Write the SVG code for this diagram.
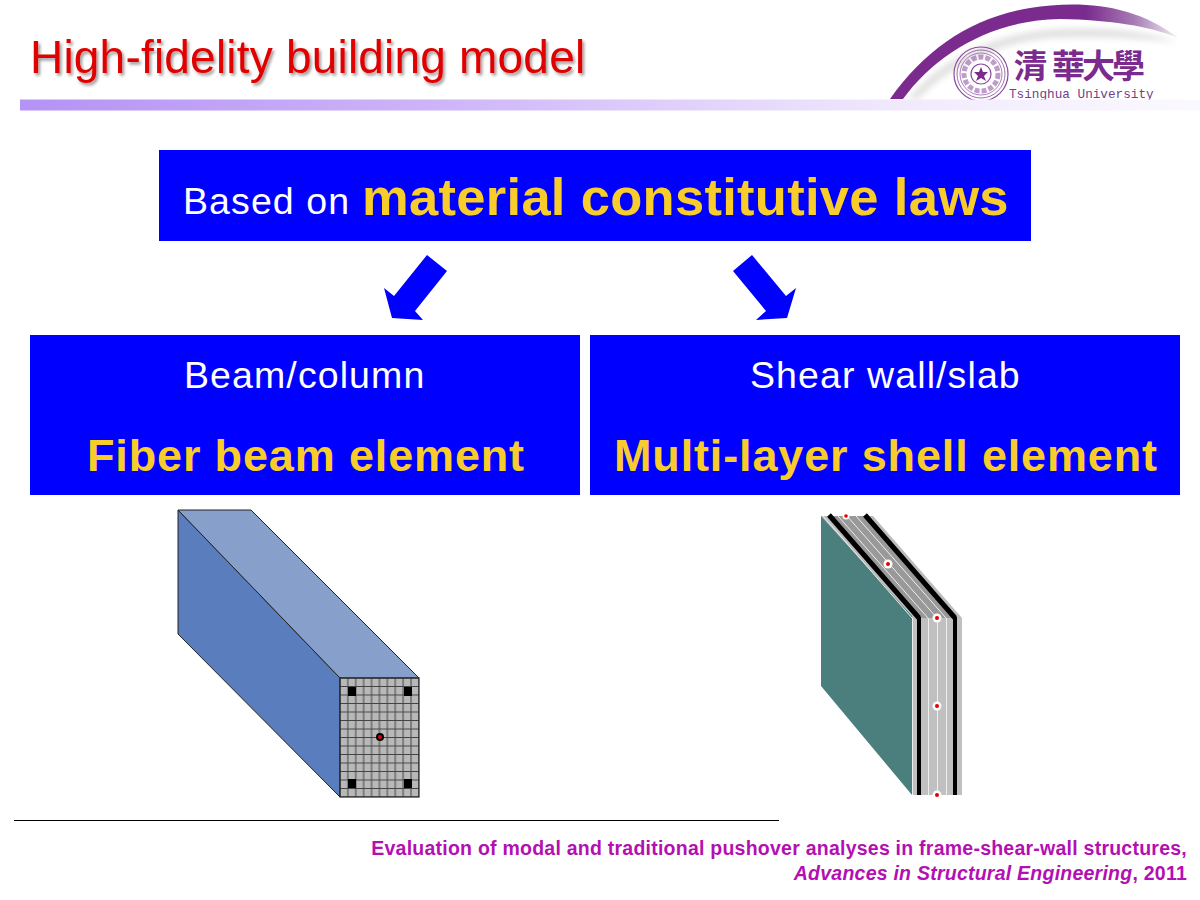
<svg xmlns="http://www.w3.org/2000/svg" width="1200" height="900" viewBox="0 0 1200 900">
<style>
text{font-family:"Liberation Sans",Arial,sans-serif}
.box{fill:#0000ff}
.w{fill:#fff;font-size:37.5px;letter-spacing:1.1px}
.y{fill:#f8cd2b;font-weight:bold;font-size:45px;letter-spacing:.85px}
.foot{fill:#b30fb3;font-size:19.5px;font-weight:bold;text-anchor:end;letter-spacing:.24px}
.arrow{fill:#0000ff}
.wl{stroke:#eee;stroke-width:1;fill:none}
.bk{stroke:#000;stroke-width:5;fill:none}
.bf{fill:#000}
.dw{fill:#fff}
.dr{fill:#e60000}
</style>
<defs>
<linearGradient id="bar" x1="0" x2="1" y1="0" y2="0"><stop offset="0" stop-color="#b592f5"/><stop offset=".35" stop-color="#cdb4f8"/><stop offset=".75" stop-color="#f1eafd"/><stop offset="1" stop-color="#fbf9ff"/></linearGradient>
<linearGradient id="arc" x1="0" x2="1" y1="0" y2="0"><stop offset="0" stop-color="#7b2a8e"/><stop offset=".68" stop-color="#7b2a8e"/><stop offset=".85" stop-color="#a77db5"/><stop offset="1" stop-color="#f4eef6"/></linearGradient>
<filter id="sh" x="-5%" y="-20%" width="110%" height="150%"><feDropShadow dx="2" dy="2.5" stdDeviation="1.5" flood-color="#000" flood-opacity=".4"/></filter>
<filter id="bl" x="-10%" y="-30%" width="120%" height="160%"><feGaussianBlur stdDeviation="3"/></filter>
<pattern id="grid" x="336" y="673.750" width="7.9" height="8.5" patternUnits="userSpaceOnUse"><rect width="7.9" height="8.5" fill="#b8b8b8"/><path d="M0 4.250H7.900M3.950 0V8.500" stroke="#444" stroke-width="1" fill="none"/></pattern>
</defs>
<rect width="1200" height="900" fill="#fff"/>

<g id="title"><text x="30" y="73" font-size="46" letter-spacing=".2" fill="#e00000" filter="url(#sh)">High-fidelity building model</text></g>

<g id="logo">
<path d="M908 99C945 55 1000 32 1060 29C1110 27 1150 32 1176 42C1140 38 1090 36 1050 38C1000 42 950 65 918 99Z" fill="#ccc" opacity=".6" filter="url(#bl)"/>
<path d="M890 99C925 50 970 18 1030 8C1080 0 1135 4 1178 38C1150 26 1110 20 1060 19C990 20 935 55 903 99Z" fill="url(#arc)"/>
<g fill="none" stroke="#8a4a9e">
<circle cx="981" cy="74" r="27" stroke-width="1.200"/>
<circle cx="981" cy="74" r="24" stroke-width=".8"/>
<circle cx="981" cy="74" r="17" stroke-width="5" stroke-dasharray="5 2" opacity=".55"/>
<circle cx="981" cy="74" r="21" stroke-width="1" opacity=".7"/>
<circle cx="981" cy="74" r="10" stroke-width="1.200"/>
</g>
<polygon points="981,67 983,72 988,72 984,76 986,81 981,78 976,81 978,76 974,72 979,72" fill="#7b2a8e"/>
<text y="78" font-size="33" font-weight="bold" fill="#7b2a8e" style="font-family:'Noto Sans CJK TC',sans-serif"><tspan x="1014">清</tspan><tspan x="1052">華</tspan><tspan x="1082">大</tspan><tspan x="1112">學</tspan></text>
<text x="1009" y="98" font-size="12.7" fill="#6f3f88" style="font-family:'Liberation Mono',monospace">Tsinghua University</text>
</g>
<rect id="bar-rule" x="20" y="99.500" width="1180" height="11" fill="url(#bar)"/>

<g id="node-top">
<rect class="box" x="159" y="150" width="872" height="91"/>
<text x="183" y="214" class="w">Based on</text>
<text x="362" y="215" class="y" style="font-size:52.500px;letter-spacing:.3px">material constitutive laws</text>
</g>

<g id="connectors">
<polygon class="arrow" points="427,255 447,271 415,311 423,320 392,318 384,288 394,296"/>
<polygon class="arrow" points="752,255 733,271 766,311 756,320 787,318 796,288 786,296"/>
</g>

<g id="node-left">
<rect class="box" x="30" y="335" width="550" height="160"/>
<text x="184" y="388" class="w">Beam/column</text>
<text x="87" y="471" class="y">Fiber beam element</text>
</g>
<g id="node-right">
<rect class="box" x="590" y="335" width="590" height="160"/>
<text x="750" y="388" class="w">Shear wall/slab</text>
<text x="614" y="471" class="y">Multi-layer shell element</text>
</g>

<g id="beam">
<polygon points="178,510 340,678 340,797 178,634" fill="#5a7dbd" stroke="#222"/>
<polygon points="178,510 251,510 419,678 340,678" fill="#87a0cb" stroke="#222"/>
<rect x="340" y="678" width="79" height="119" fill="url(#grid)" stroke="#222" stroke-width="1.200"/>
<rect x="348" y="687" width="8" height="9"/><rect x="404" y="687" width="8" height="9"/>
<rect x="348" y="779" width="8" height="9"/><rect x="404" y="779" width="8" height="9"/>
<circle cx="380" cy="737" r="4" fill="#000"/><circle cx="380" cy="737" r="2" fill="#e60000"/>
</g>

<g id="shell">
<polygon points="821,516 873,516 962,618 912,618" fill="#bcbcbc"/>
<polygon points="830,516 864,516 955,618 919,618" fill="#999"/>
<polygon points="821,516 912,616 912,795 821,686" fill="#4a7f7d"/>
<rect x="912" y="618" width="50" height="177" fill="#c0c0c0"/>
<path class="wl" d="M838 516L928 618M847 516L937 618M856 516L946 618M823 516L912 618"/>
<path class="wl" d="M912.500 618V795M928.500 618V795M937.500 618V795M946.500 618V795"/>
<path class="bk" d="M829 515L919 618M865 515L955 618"/>
<rect class="bf" x="917" y="617" width="4" height="178"/>
<rect class="bf" x="953" y="617" width="4" height="178"/>
<circle class="dw" cx="846" cy="516" r="3.500"/><circle class="dr" cx="846" cy="516" r="1.800"/>
<circle class="dw" cx="888" cy="564" r="4.500"/><circle class="dr" cx="888" cy="564" r="2"/>
<circle class="dw" cx="937" cy="618" r="4.500"/><circle class="dr" cx="937" cy="618" r="2"/>
<circle class="dw" cx="937" cy="706" r="4.500"/><circle class="dr" cx="937" cy="706" r="2"/>
<circle class="dw" cx="937" cy="795" r="4.500"/><circle class="dr" cx="937" cy="795" r="2"/>
</g>

<line x1="14" y1="820.500" x2="779" y2="820.500" stroke="#000" stroke-width="1"/>
<text x="1187" y="855" class="foot">Evaluation of modal and traditional pushover analyses in frame-shear-wall structures,</text>
<text x="1187" y="880" class="foot"><tspan font-style="italic">Advances in Structural Engineering</tspan>, 2011</text>
</svg>
